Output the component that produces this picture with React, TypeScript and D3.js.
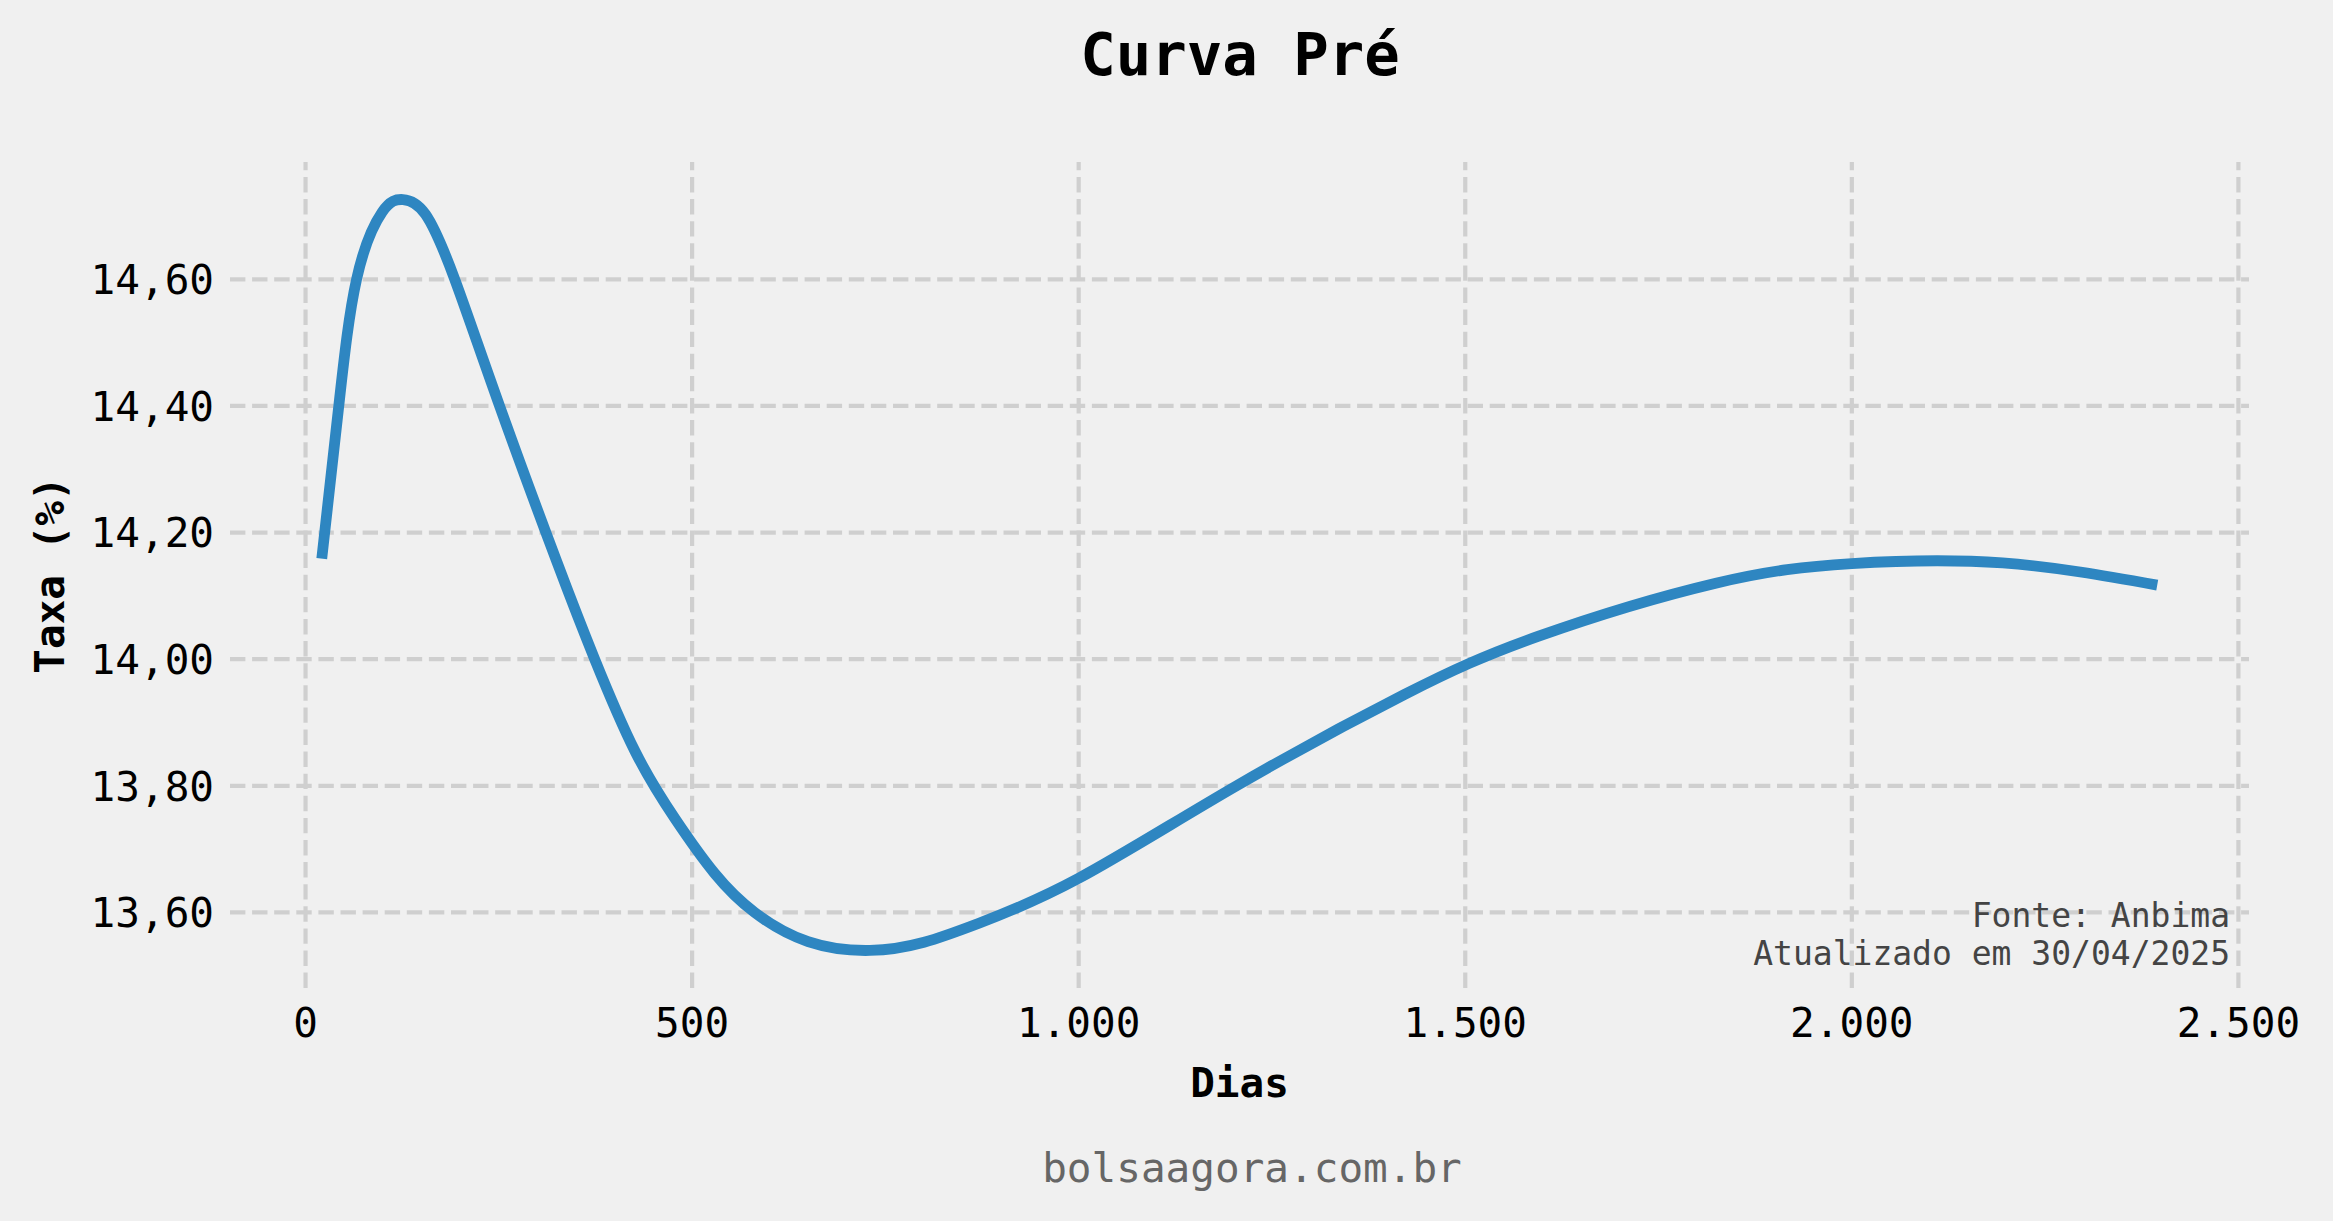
import { useRef, useEffect } from 'react';
import * as d3 from 'd3';

// Curva Pré (Anbima) — prazo em dias corridos x taxa (%)
const DIAS = [
  21, 43, 66, 99, 126, 155, 193, 251, 325, 374, 426, 478, 529, 581, 650, 730,
  800, 871, 1000, 1204, 1421, 1594, 1824, 2000, 2195, 2395,
];
const TAXAS = [
  14.159, 14.4, 14.6, 14.706, 14.726, 14.703, 14.6, 14.4, 14.154, 14.0,
  13.855, 13.748, 13.662, 13.6, 13.554, 13.54, 13.553, 13.583, 13.654, 13.8,
  13.944, 14.036, 14.12, 14.151, 14.152, 14.117,
];
const X_TICKS = [0, 500, 1000, 1500, 2000, 2500];
const Y_TICKS = [13.6, 13.8, 14.0, 14.2, 14.4, 14.6];

const TITLE = 'Curva Pré';
const X_LABEL = 'Dias';
const Y_LABEL = 'Taxa (%)';
const FONTE = 'Fonte: Anbima';
const ATUALIZADO = 'Atualizado em 30/04/2025';
const SITE = 'bolsaagora.com.br';

const WIDTH = 2333;
const HEIGHT = 1221;
const PLOT = { left: 230, right: 2249, top: 162, bottom: 988 };
const FONT = '"DejaVu Sans Mono", monospace';
const LINE_COLOR = '#2E86C1';
const GRID_COLOR = '#cfcfcf';

const ptBR = d3.formatLocale({
  decimal: ',',
  thousands: '.',
  grouping: [3],
  currency: ['R$', ''],
});
const fmtDias = ptBR.format(',d');
const fmtTaxa = ptBR.format('.2f');

// matplotlib-style 5% padding around the data extent
function padded(values: number[]): [number, number] {
  const [lo, hi] = d3.extent(values) as [number, number];
  const pad = (hi - lo) * 0.05;
  return [lo - pad, hi + pad];
}

export default function App() {
  const svgRef = useRef<SVGSVGElement>(null);

  useEffect(() => {
    const svg = d3.select(svgRef.current);
    svg.selectAll('*').remove();

    const x = d3.scaleLinear().domain(padded(DIAS)).range([PLOT.left, PLOT.right]);
    const y = d3.scaleLinear().domain(padded(TAXAS)).range([PLOT.bottom, PLOT.top]);

    svg
      .append('rect')
      .attr('width', WIDTH)
      .attr('height', HEIGHT)
      .attr('fill', '#f0f0f0');

    // Grid
    const grid = svg.append('g').attr('class', 'grid');
    X_TICKS.forEach((t) => {
      grid
        .append('line')
        .attr('x1', x(t))
        .attr('x2', x(t))
        .attr('y1', PLOT.bottom)
        .attr('y2', PLOT.top)
        .attr('stroke', GRID_COLOR)
        .attr('stroke-width', 4.2)
        .attr('stroke-dasharray', '15.4,6.7');
    });
    Y_TICKS.forEach((t) => {
      grid
        .append('line')
        .attr('x1', PLOT.left)
        .attr('x2', PLOT.right)
        .attr('y1', y(t))
        .attr('y2', y(t))
        .attr('stroke', GRID_COLOR)
        .attr('stroke-width', 4.2)
        .attr('stroke-dasharray', '15.4,6.7');
    });

    // Tick labels
    X_TICKS.forEach((t) => {
      svg
        .append('text')
        .attr('x', x(t))
        .attr('y', 1037)
        .attr('text-anchor', 'middle')
        .attr('font-family', FONT)
        .attr('font-size', 41)
        .attr('fill', '#000')
        .text(fmtDias(t));
    });
    Y_TICKS.forEach((t) => {
      svg
        .append('text')
        .attr('x', 214)
        .attr('y', y(t))
        .attr('dy', '0.36em')
        .attr('text-anchor', 'end')
        .attr('font-family', FONT)
        .attr('font-size', 41)
        .attr('fill', '#000')
        .text(fmtTaxa(t));
    });

    // Curve
    const data = DIAS.map((d, i) => [d, TAXAS[i]] as [number, number]);
    const line = d3
      .line<[number, number]>()
      .x((d) => x(d[0]))
      .y((d) => y(d[1]))
      .curve(d3.curveNatural);
    svg
      .append('path')
      .datum(data)
      .attr('d', line)
      .attr('fill', 'none')
      .attr('stroke', LINE_COLOR)
      .attr('stroke-width', 10.8)
      .attr('stroke-linecap', 'butt')
      .attr('stroke-linejoin', 'round');

    // Title & axis labels
    svg
      .append('text')
      .attr('x', 1240)
      .attr('y', 75)
      .attr('text-anchor', 'middle')
      .attr('font-family', FONT)
      .attr('font-size', 59)
      .attr('font-weight', 700)
      .attr('fill', '#000')
      .text(TITLE);
    svg
      .append('text')
      .attr('x', (PLOT.left + PLOT.right) / 2)
      .attr('y', 1097)
      .attr('text-anchor', 'middle')
      .attr('font-family', FONT)
      .attr('font-size', 41)
      .attr('font-weight', 700)
      .attr('fill', '#000')
      .text(X_LABEL);
    svg
      .append('text')
      .attr('transform', `translate(64,${(PLOT.top + PLOT.bottom) / 2}) rotate(-90)`)
      .attr('text-anchor', 'middle')
      .attr('font-family', FONT)
      .attr('font-size', 41)
      .attr('font-weight', 700)
      .attr('fill', '#000')
      .text(Y_LABEL);

    // Source note
    [FONTE, ATUALIZADO].forEach((s, i) => {
      svg
        .append('text')
        .attr('x', 2230)
        .attr('y', 927 + i * 38)
        .attr('text-anchor', 'end')
        .attr('font-family', FONT)
        .attr('font-size', 33)
        .attr('fill', '#444')
        .text(s);
    });

    svg
      .append('text')
      .attr('x', 1252)
      .attr('y', 1182)
      .attr('text-anchor', 'middle')
      .attr('font-family', FONT)
      .attr('font-size', 41)
      .attr('fill', '#666')
      .text(SITE);
  }, []);

  return (
    <svg
      ref={svgRef}
      width={WIDTH}
      height={HEIGHT}
      style={{ position: 'fixed', left: 0, top: 0, display: 'block' }}
    />
  );
}
